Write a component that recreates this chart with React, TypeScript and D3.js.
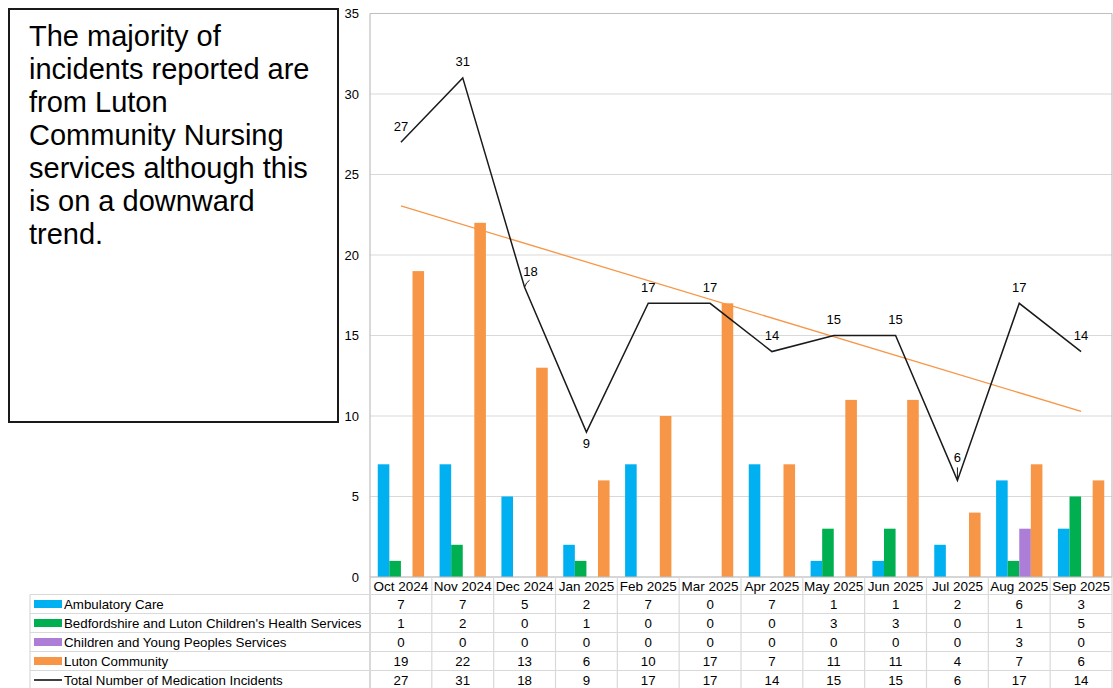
import * as d3 from "d3";

const categories = [
  "Oct 2024", "Nov 2024", "Dec 2024", "Jan 2025", "Feb 2025", "Mar 2025",
  "Apr 2025", "May 2025", "Jun 2025", "Jul 2025", "Aug 2025", "Sep 2025",
];
const ambulatoryCare = [7, 7, 5, 2, 7, 0, 7, 1, 1, 2, 6, 3];
const bedsLutonChildrens = [1, 2, 0, 1, 0, 0, 0, 3, 3, 0, 1, 5];
const childrenYoungPeople = [0, 0, 0, 0, 0, 0, 0, 0, 0, 0, 3, 0];
const lutonCommunity = [19, 22, 13, 6, 10, 17, 7, 11, 11, 4, 7, 6];
const totalIncidents = [27, 31, 18, 9, 17, 17, 14, 15, 15, 6, 17, 14];
const yTicks = [0, 5, 10, 15, 20, 25, 30, 35];

const barSeries = [
  { name: "Ambulatory Care", values: ambulatoryCare, color: "#00B0F0" },
  { name: "Bedfordshire and Luton Children's Health Services", values: bedsLutonChildrens, color: "#00B050" },
  { name: "Children and Young Peoples Services", values: childrenYoungPeople, color: "#AD7ED7" },
  { name: "Luton Community", values: lutonCommunity, color: "#F79646" },
];
const lineName = "Total Number of Medication Incidents";

const noteLines = [
  "The majority of",
  "incidents reported are",
  "from Luton",
  "Community Nursing",
  "services although this",
  "is on a downward",
  "trend.",
];

const FONT = "'Liberation Sans', Arial, sans-serif";
const W = 1113;
const H = 688;

export default function App() {
  const left = 370;
  const right = 1112;
  const top = 13.5;
  const bottom = 577;

  const x = d3.scaleBand<string>().domain(categories).range([left, right]).padding(0);
  const y = d3.scaleLinear().domain([0, 35]).range([bottom, top]);
  const inner = d3
    .scaleBand<string>()
    .domain(barSeries.map((s) => s.name))
    .range([0, x.bandwidth()])
    .paddingInner(0)
    .paddingOuter(0.67);

  const cx = (i: number) => (x(categories[i]) || 0) + x.bandwidth() / 2;

  // Linear trend of the total
  const n = totalIncidents.length;
  const xs = d3.range(n);
  const mx = d3.mean(xs) || 0;
  const my = d3.mean(totalIncidents) || 0;
  const sxy = d3.sum(xs, (i) => (i - mx) * (totalIncidents[i] - my));
  const sxx = d3.sum(xs, (i) => (i - mx) * (i - mx));
  const slope = sxy / sxx;
  const intercept = my - slope * mx;

  const line = d3
    .line<number>()
    .x((_, i) => cx(i))
    .y((d) => y(d));

  // label placement tweaks (dx, dy of label centre relative to point)
  const labelOffset = (i: number): [number, number] => {
    if (i === 2) return [6, -16];
    if (i === 3) return [0, 11];
    if (i === 9) return [0, -23];
    return [0, -16];
  };

  const rowTop = 594.5;
  const rowH = 19;
  const tableRows = [...barSeries.map((s) => ({ ...s, isLine: false })), { name: lineName, values: totalIncidents, color: "#000", isLine: true }];

  return (
    <svg
      width={W}
      height={H}
      style={{ position: "absolute", left: 0, top: 0, background: "#fff" }}
      fontFamily={FONT}
    >
      <rect width={W} height={H} fill="#fff" />

      {/* Note box */}
      <rect x={9} y={9} width={329} height={413} fill="#fff" stroke="#1a1a1a" strokeWidth={2} />
      {noteLines.map((t, i) => (
        <text key={t} x={29} y={46 + i * 33} fontSize={29} fill="#000">
          {t}
        </text>
      ))}

      {/* Gridlines */}
      {yTicks.map((t) => (
        <line key={t} x1={left} x2={right} y1={y(t)} y2={y(t)} stroke="#d9d9d9" strokeWidth={1.2} />
      ))}
      <line x1={right} x2={right} y1={top} y2={bottom} stroke="#bfbfbf" strokeWidth={1.2} />
      <line x1={left} x2={right} y1={top} y2={top} stroke="#bfbfbf" strokeWidth={1.2} />

      {/* Y tick labels */}
      {yTicks.map((t) => (
        <text key={t} x={359} y={y(t)} dy="0.35em" textAnchor="end" fontSize={13} fill="#000">
          {t}
        </text>
      ))}

      {/* Bars */}
      {barSeries.map((s) =>
        s.values.map((v, i) =>
          v > 0 ? (
            <rect
              key={s.name + i}
              x={(x(categories[i]) || 0) + (inner(s.name) || 0)}
              y={y(v)}
              width={inner.bandwidth()}
              height={bottom - y(v)}
              fill={s.color}
            />
          ) : null
        )
      )}

      {/* Trend line */}
      <line
        x1={cx(0)}
        x2={cx(n - 1)}
        y1={y(intercept)}
        y2={y(intercept + slope * (n - 1))}
        stroke="#F79646"
        strokeWidth={1.3}
      />

      {/* Total line */}
      <path d={line(totalIncidents) || ""} fill="none" stroke="#1a1a1a" strokeWidth={1.5} />

      {/* Leader lines */}
      <path
        d={`M${cx(2)},${y(totalIncidents[2])} Q${cx(2) + 1.5},${y(totalIncidents[2]) - 5} ${cx(2) + 5},${y(totalIncidents[2]) - 7}`}
        fill="none"
        stroke="#1a1a1a"
        strokeWidth={1}
      />
      <line
        x1={cx(9)}
        x2={cx(9)}
        y1={y(totalIncidents[9]) - 13}
        y2={y(totalIncidents[9]) - 1}
        stroke="#1a1a1a"
        strokeWidth={1}
      />

      {/* Data labels */}
      {totalIncidents.map((v, i) => {
        const [dx, dy] = labelOffset(i);
        return (
          <text
            key={"l" + i}
            x={cx(i) + dx}
            y={y(v) + dy}
            dy="0.35em"
            textAnchor="middle"
            fontSize={13}
            fill="#000"
          >
            {v}
          </text>
        );
      })}

      {/* Axis lines */}
      <line x1={left} x2={left} y1={top} y2={H} stroke="#bfbfbf" strokeWidth={1.2} />
      <line x1={left} x2={right} y1={bottom} y2={bottom} stroke="#bfbfbf" strokeWidth={1.2} />

      {/* Data table */}
      {categories.map((c) => (
        <line
          key={"v" + c}
          x1={(x(c) || 0) + x.bandwidth()}
          x2={(x(c) || 0) + x.bandwidth()}
          y1={bottom}
          y2={H}
          stroke="#d9d9d9"
          strokeWidth={1.2}
        />
      ))}
      <line x1={30} x2={30} y1={rowTop} y2={H} stroke="#d9d9d9" strokeWidth={1.2} />
      {d3.range(tableRows.length + 1).map((r) => (
        <line
          key={"h" + r}
          x1={30}
          x2={right}
          y1={rowTop + r * rowH}
          y2={rowTop + r * rowH}
          stroke="#d9d9d9"
          strokeWidth={1.2}
        />
      ))}
      {categories.map((c, i) => (
        <text key={"c" + c} x={cx(i)} y={586} dy="0.35em" textAnchor="middle" fontSize={13.5} fill="#000">
          {c}
        </text>
      ))}
      {tableRows.map((row, r) => {
        const cy = rowTop + r * rowH + rowH / 2;
        return (
          <g key={row.name}>
            {row.isLine ? (
              <line x1={34} x2={62} y1={cy} y2={cy} stroke="#000" strokeWidth={1.5} />
            ) : (
              <rect x={34} y={cy - 4} width={28} height={8} fill={row.color} />
            )}
            <text x={64} y={cy} dy="0.35em" fontSize={13.3} fill="#000">
              {row.name}
            </text>
            {row.values.map((v, i) => (
              <text key={i} x={cx(i)} y={cy} dy="0.35em" textAnchor="middle" fontSize={13.3} fill="#000">
                {v}
              </text>
            ))}
          </g>
        );
      })}
    </svg>
  );
}
